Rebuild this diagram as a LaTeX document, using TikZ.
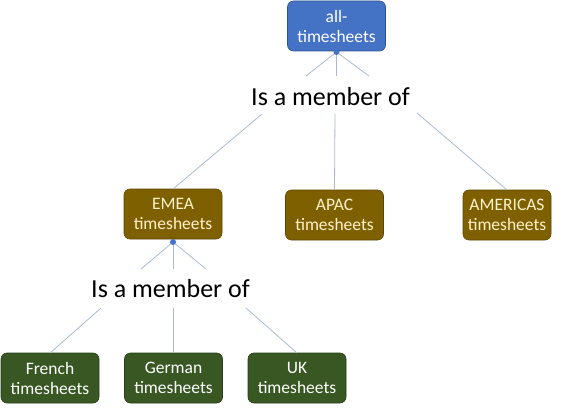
\documentclass[tikz,border=0pt]{standalone}
\usepackage{fontspec}
\setmainfont{Carlito}
\definecolor{topblue}{HTML}{4472C4}
\definecolor{topedge}{HTML}{2F528F}
\definecolor{regbrown}{HTML}{7F6000}
\definecolor{regedge}{HTML}{5C4600}
\definecolor{regtext}{HTML}{FFF2CC}
\definecolor{ctygreen}{HTML}{385723}
\definecolor{ctyedge}{HTML}{263D18}
\definecolor{linkblue}{HTML}{A9B8D6}

\begin{document}
\begin{tikzpicture}[x=1pt,y=-1pt,
	sheet/.style={rounded corners=6pt,align=center,inner sep=0,outer sep=0,
		minimum width=98pt,minimum height=50pt,line width=0.6pt,
		font=\fontsize{17.5}{20}\selectfont},
	rootsheet/.style={sheet,fill=topblue,draw=topedge,text=white},
	regionsheet/.style={sheet,fill=regbrown,draw=regedge,text=regtext},
	countrysheet/.style={sheet,fill=ctygreen,draw=ctyedge,text=white},
	member/.style={inner sep=0,font=\fontsize{26}{30}\selectfont},
	link/.style={draw=linkblue,line width=0.8pt}]
	\useasboundingbox (0,0) rectangle (562,409);
	\node[rootsheet] (all) at (336.5,26) {all-\\timesheets};
	\node[member] (memtop) at (330.5,97) {Is a member of};
	\node[regionsheet] (emea) at (173,214) {EMEA\\timesheets};
	\node[regionsheet] (apac) at (334.5,215) {APAC\\timesheets};
	\node[regionsheet,minimum width=88pt] (americas) at (507,215) {AMERICAS\\timesheets};
	\node[member] (memlow) at (170.5,289) {Is a member of};
	\node[countrysheet] (french) at (50,378) {French\\timesheets};
	\node[countrysheet] (german) at (173.5,378) {German\\timesheets};
	\node[countrysheet] (uk) at (297,378) {UK\\timesheets};
	% hubs under the parents
	\coordinate (hubtop) at (336.5,52);
	\coordinate (hublow) at (173,242);
	\coordinate (tl) at (306,76);
	\coordinate (tc) at (336.5,76);
	\coordinate (tr) at (369,76);
	\coordinate (bl) at (262,114);
	\coordinate (bc) at (335,114);
	\coordinate (br) at (417,113);
	\coordinate (ul) at (141,269);
	\coordinate (uc) at (173,269);
	\coordinate (ur) at (206,269);
	\coordinate (dl) at (101,308);
	\coordinate (dc) at (173.5,308);
	\coordinate (dr) at (246,308);
	\draw[link] (hubtop) -- (tl);
	\draw[link] (hubtop) -- (tc);
	\draw[link] (hubtop) -- (tr);
	\draw[link] (bl) -- (emea.north);
	\draw[link] (bc) -- (apac.north);
	\draw[link] (br) -- (americas.north);
	\draw[link] (hublow) -- (ul);
	\draw[link] (hublow) -- (uc);
	\draw[link] (hublow) -- (ur);
	\draw[link] (dl) -- (french.north);
	\draw[link] (dc) -- (german.north);
	\draw[link] (dr) -- (uk.north);
	\fill[topblue] (hubtop) circle (3pt);
	\fill[topblue] (hublow) circle (3pt);
\end{tikzpicture}
\end{document}
